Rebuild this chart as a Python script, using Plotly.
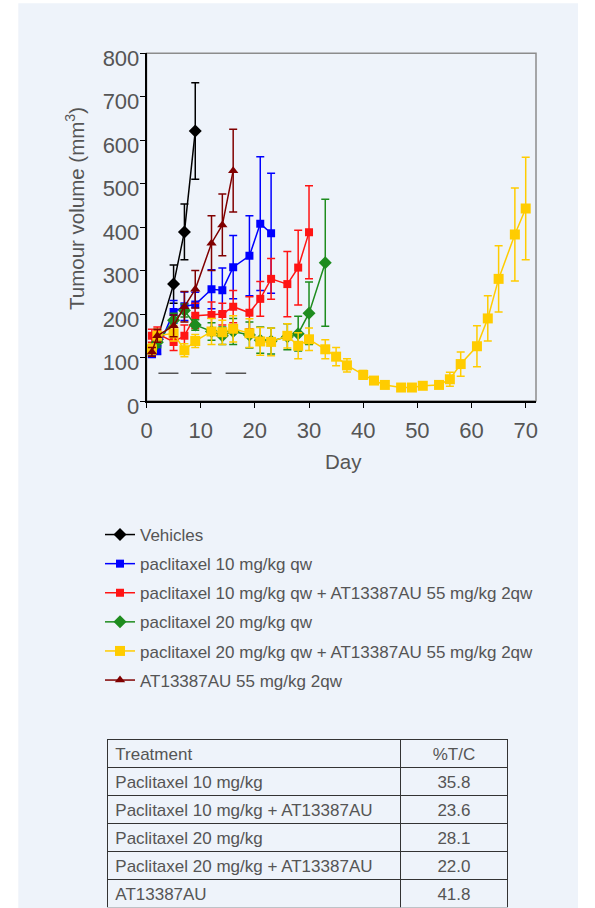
import plotly.graph_objects as go

# ---------------- data ----------------
days_veh = [1, 2, 5, 7, 9]
veh = [115, 142, 269, 389, 621]
veh_err = [10, 15, 44, 64, 111]

days_p10 = [1, 2, 5, 7, 9, 12, 14, 16, 19, 21, 23]
p10 = [108, 117, 205, 218, 222, 257, 255, 308, 334, 408, 386]
p10_err = [8, 10, 26, 33, 28, 45, 51, 73, 92, 154, 138]

days_p10at = [1, 2, 5, 7, 9, 12, 14, 16, 19, 21, 23, 26, 28, 30]
p10at = [150, 155, 136, 150, 196, 198, 200, 217, 203, 235, 281, 269, 307, 388]
p10at_err = [15, 15, 20, 25, 29, 30, 25, 37, 37, 40, 47, 75, 86, 107]

days_p20 = [1, 2, 5, 7, 9, 12, 14, 16, 19, 21, 23, 26, 28, 30, 33]
p20 = [120, 135, 186, 208, 175, 160, 150, 160, 152, 140, 138, 148, 155, 202, 318]
p20_err = [10, 12, 16, 15, 12, 20, 20, 30, 30, 30, 30, 30, 40, 72, 146]

days_p20at = [1, 2, 5, 7, 9, 12, 14, 16, 19, 21, 23, 26, 28, 30, 33, 35, 37, 40,
              42, 44, 47, 49, 51, 54, 56, 58, 61, 63, 65, 68, 70]
p20at = [119, 150, 156, 117, 138, 160, 158, 166, 156, 137, 136, 150, 127, 142, 119,
         102, 82, 60, 47, 37, 31, 31, 35, 37, 50, 85, 126, 190, 281, 383, 443]
p20at_err = [12, 15, 18, 15, 15, 30, 28, 30, 33, 32, 32, 28, 30, 26, 22,
             21, 15, 10, 5, 4, 3, 3, 3, 3, 16, 28, 47, 52, 76, 107, 118]

days_at = [1, 2, 5, 7, 9, 12, 14, 16]
at = [113, 150, 173, 217, 257, 363, 405, 530]
at_err = [10, 15, 25, 35, 43, 63, 71, 95]

dose_x = [2.2, 5.9, None, 8.2, 12.0, None, 14.6, 18.4]
dose_y = [64, 64, None, 64, 64, None, 64, 64]

x_ticks = [0, 10, 20, 30, 40, 50, 60, 70]
y_ticks = [0, 100, 200, 300, 400, 500, 600, 700, 800]

table_treatment = ["Paclitaxel 10 mg/kg", "Paclitaxel 10 mg/kg + AT13387AU",
                   "Paclitaxel 20 mg/kg", "Paclitaxel 20 mg/kg + AT13387AU",
                   "AT13387AU"]
table_tc = ["35.8", "23.6", "28.1", "22.0", "41.8"]

# ---------------- styles ----------------
W, H = 595, 908
PANEL = "#EEF3FA"
TXT = "#555555"
FONT = "Liberation Sans, Arial, sans-serif"

series = [
    ("Vehicles", days_veh, veh, veh_err, "#000000", "diamond", 10),
    ("paclitaxel 10 mg/kg qw", days_p10, p10, p10_err, "#0000FF", "square", 8),
    ("paclitaxel 10 mg/kg qw + AT13387AU 55 mg/kg 2qw", days_p10at, p10at, p10at_err, "#FF1414", "square", 8),
    ("paclitaxel 20 mg/kg qw", days_p20, p20, p20_err, "#1E8C1E", "diamond", 10),
    ("paclitaxel 20 mg/kg qw + AT13387AU 55 mg/kg 2qw", days_p20at, p20at, p20at_err, "#FFCC00", "square", 10),
    ("AT13387AU 55 mg/kg 2qw", days_at, at, at_err, "#800000", "triangle-up", 9),
]

fig = go.Figure()

fig.add_trace(go.Scatter(x=dose_x, y=dose_y, mode="lines", showlegend=False,
                         line=dict(color="#555555", width=1.5), hoverinfo="skip"))

for i, (name, xs, ys, es, col, sym, sz) in enumerate(series):
    fig.add_trace(go.Scatter(
        x=xs, y=ys, name=name, mode="lines+markers", legendgroup=f"g{i}",
        line=dict(color=col, width=1.5),
        marker=dict(color=col, symbol=sym, size=sz),
        error_y=dict(type="data", array=es, visible=True, color=col,
                     thickness=1.5, width=4),
    ))

fig.add_trace(go.Table(
    domain=dict(x=[107.3 / W, 507.7 / W], y=[0, 1 - 739.3 / H]),
    columnwidth=[294, 107],
    header=dict(values=["Treatment", "%T/C"], align=["left", "center"],
                height=28, fill_color="rgba(0,0,0,0)",
                line=dict(color="#333333", width=1),
                font=dict(family=FONT, size=17, color=TXT)),
    cells=dict(values=[table_treatment, table_tc], align=["left", "center"],
               height=28, fill_color="rgba(0,0,0,0)",
               line=dict(color="#333333", width=1),
               font=dict(family=FONT, size=17, color=TXT)),
))

x0p, x1p = 146.5 / W, 536 / W
y0p, y1p = 1 - 401 / H, 1 - 53.3 / H

fig.update_layout(
    width=W, height=H,
    margin=dict(l=0, r=0, t=0, b=0, autoexpand=False),
    paper_bgcolor="#FFFFFF",
    plot_bgcolor="rgba(0,0,0,0)",
    font=dict(family=FONT, color=TXT),
    xaxis=dict(domain=[x0p, x1p], range=[0, 71.9], tickvals=x_ticks,
               showgrid=False, zeroline=False, showline=True, linecolor="#000000",
               linewidth=1.5, ticks="outside", ticklen=5, tickcolor="#000000",
               tickfont=dict(size=22, color=TXT), automargin=False,
               ticklabelstandoff=4),
    yaxis=dict(domain=[y0p, y1p], range=[0, 800], tickvals=y_ticks,
               showgrid=False, zeroline=False, showline=True, linecolor="#000000",
               linewidth=1.5, ticks="outside", ticklen=5, tickcolor="#000000",
               tickfont=dict(size=22, color=TXT), automargin=False,
               ticklabelstandoff=-4, ticklabelshift=5),
    legend=dict(x=100 / W, y=1 - 517 / H, xanchor="left", yanchor="top",
                bgcolor="rgba(0,0,0,0)", font=dict(size=17, color=TXT),
                tracegroupgap=4, itemwidth=30),
    annotations=[
        dict(text="Day", xref="paper", yref="paper", x=343.3 / W, y=1 - 461 / H,
             xanchor="center", yanchor="middle", showarrow=False,
             font=dict(size=20.5, color=TXT)),
        dict(text="Tumour volume (mm<sup>3</sup>)", xref="paper", yref="paper",
             x=75 / W, y=1 - 209 / H, xanchor="center", yanchor="middle",
             textangle=-90, showarrow=False, font=dict(size=20.5, color=TXT)),
    ],
    shapes=[
        dict(type="rect", xref="paper", yref="paper", x0=18.3 / W, x1=578 / W,
             y0=0, y1=1 - 3.3 / H, fillcolor=PANEL, line=dict(width=0), layer="below"),
        dict(type="rect", xref="x domain", yref="y domain", x0=0, x1=1, y0=0, y1=1,
             line=dict(color="#8C8C8C", width=1.5), layer="below"),
    ],
)

fig.write_html("out.html", config={"displayModeBar": False},
               post_script="document.body.style.margin='0';")
